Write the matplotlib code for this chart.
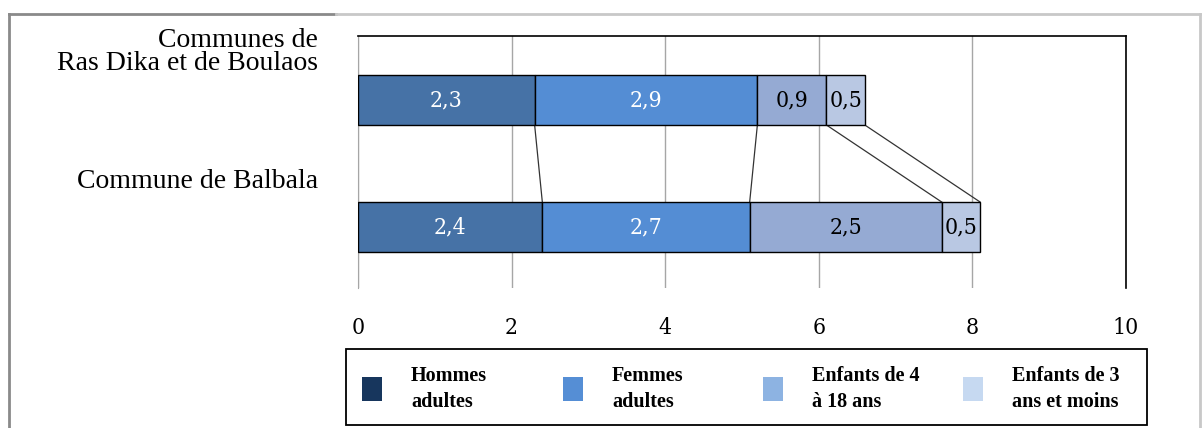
import matplotlib
matplotlib.use("Agg")
import matplotlib.pyplot as plt
from matplotlib.patches import Rectangle
from matplotlib.lines import Line2D
import numpy as np

# Data
communes = ["Commune de Balbala", "Communes de\nRas Dika et de Boulaos"]
series = ["Hommes\nadultes", "Femmes\nadultes", "Enfants de 4\nà 18 ans", "Enfants de 3\nans et moins"]
balbala = [2.4, 2.7, 2.5, 0.5]
ras_dika = [2.3, 2.9, 0.9, 0.5]
value_labels_balbala = ["2,4", "2,7", "2,5", "0,5"]
value_labels_ras_dika = ["2,3", "2,9", "0,9", "0,5"]
xticks = [0, 2, 4, 6, 8, 10]

bar_colors = ["#4672A6", "#548DD4", "#95AAD3", "#B9C8E3"]
legend_colors = ["#17365D", "#558ED5", "#8DB3E2", "#C6D9F1"]
text_colors = ["white", "white", "black", "black"]

W, H = 1202, 428
fig = plt.figure(figsize=(W / 100, H / 100), dpi=100)

def fx(px):
    return px / W

def fy(py):
    return 1 - py / H

# Outer frame
fig.add_artist(Line2D([fx(9), fx(9)], [fy(14), -0.1], color="#8a8a8a", lw=2))
fig.add_artist(Line2D([fx(9), fx(336)], [fy(14), fy(14)], color="#8a8a8a", lw=2))
fig.add_artist(Line2D([fx(336), fx(1200)], [fy(14), fy(14)], color="#c8c8c8", lw=2))
fig.add_artist(Line2D([fx(1200), fx(1200)], [fy(14), -0.1], color="#c8c8c8", lw=2))

ax = fig.add_axes([fx(358), fy(288), fx(1126) - fx(358), fy(36) - fy(288)])

ypos = [0, 1]
bar_h = 0.394
rows = [balbala, ras_dika]
rows_labels = [value_labels_balbala, value_labels_ras_dika]

for y, vals, labs in zip(ypos, rows, rows_labels):
    left = 0.0
    for k, (v, lab) in enumerate(zip(vals, labs)):
        ax.barh(y, v, left=left, height=bar_h, color=bar_colors[k],
                edgecolor="black", linewidth=1.0, zorder=3)
        ax.text(left + v / 2, y, lab, ha="center", va="center",
                color=text_colors[k], fontsize=16.5, family="DejaVu Serif",
                fontstretch="condensed", zorder=4)
        left += v

# Series connectors between the two stacked bars
cum_top = np.cumsum(ras_dika)
cum_bot = np.cumsum(balbala)
for a, b in zip(cum_top, cum_bot):
    ax.plot([a, b], [1 - bar_h / 2, 0 + bar_h / 2], color="#333333", lw=0.9, zorder=2)

ax.set_xlim(0, 10)
ax.set_ylim(-0.48, 1.504)
ax.set_xticks(xticks)
ax.set_xticklabels([str(t) for t in xticks], family="DejaVu Serif",
                   fontstretch="condensed", fontsize=16.5)
ax.tick_params(axis="x", length=0, pad=21)
ax.set_yticks([])
ax.grid(axis="x", color="#a6a6a6", lw=1.0, zorder=0)
ax.set_axisbelow(True)
for s in ["top", "right"]:
    ax.spines[s].set_color("black")
    ax.spines[s].set_linewidth(1.2)
ax.spines["left"].set_color("#a6a6a6")
ax.spines["bottom"].set_visible(False)

# Category labels
label_y = [181, 52]
for name, py in zip(communes, label_y):
    fig.text(fx(318), fy(py), name, ha="right", va="center", fontsize=20,
             family="Liberation Serif", linespacing=0.9)

# Legend
fig.add_artist(Rectangle((fx(346), fy(425)), fx(1147) - fx(346), fy(349) - fy(425),
                         transform=fig.transFigure, facecolor="white",
                         edgecolor="black", lw=1.3))
patch_x = [362, 563, 763, 963]
for k, name in enumerate(series):
    fig.add_artist(Rectangle((fx(patch_x[k]), fy(401)), fx(20), fy(377) - fy(401),
                             transform=fig.transFigure, facecolor=legend_colors[k],
                             edgecolor="none"))
    fig.text(fx(patch_x[k] + 49), fy(389), name, ha="left", va="center",
             fontsize=14.5, fontweight="bold", family="Liberation Serif",
             linespacing=1.4)

fig.savefig("out.png", dpi=100)
